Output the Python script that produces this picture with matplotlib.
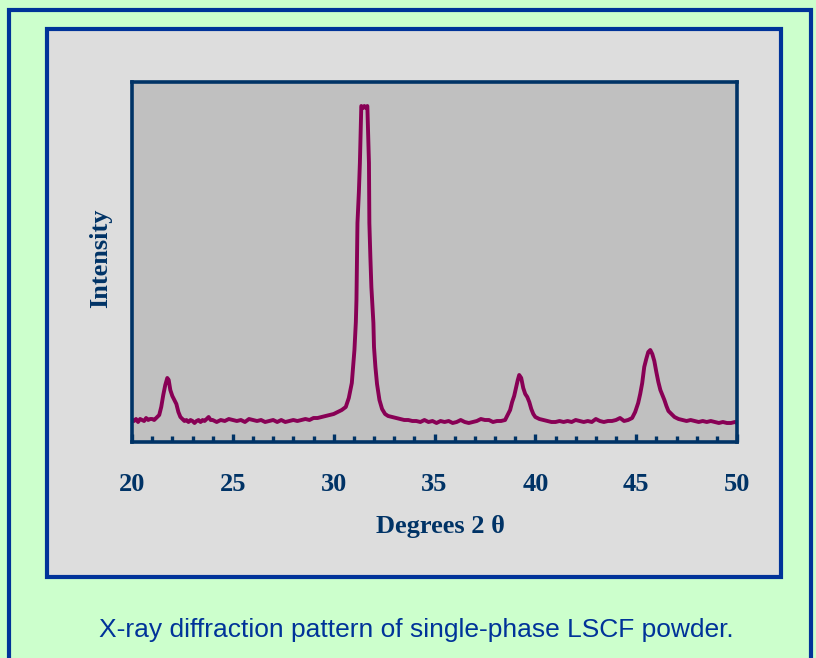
import matplotlib
matplotlib.use("Agg")
import matplotlib.pyplot as plt
from matplotlib.patches import Rectangle
from matplotlib.ticker import MultipleLocator

# XRD pattern (2-theta in degrees, intensity in arb. units)
two_theta = [
    20.0, 20.1, 20.2, 20.3, 20.4, 20.5, 20.6, 20.7, 20.8, 20.9, 21.0, 21.1,
    21.2, 21.35, 21.45, 21.55, 21.65, 21.75, 21.82, 21.9, 22.0, 22.1, 22.2, 22.3,
    22.4, 22.5, 22.6, 22.7, 22.8, 22.9, 23.0, 23.1, 23.2, 23.3, 23.4, 23.5,
    23.6, 23.7, 23.8, 23.9, 24.0, 24.2, 24.4, 24.6, 24.8, 25.0, 25.2, 25.4,
    25.6, 25.8, 26.0, 26.2, 26.4, 26.6, 26.8, 27.0, 27.2, 27.4, 27.6, 27.8,
    28.0, 28.2, 28.4, 28.6, 28.8, 29.0, 29.2, 29.4, 29.6, 29.8, 30.0, 30.2,
    30.4, 30.6, 30.75, 30.9, 31.03, 31.1, 31.13, 31.18, 31.25, 31.3, 31.37, 31.45,
    31.52, 31.6, 31.67, 31.75, 31.77, 31.82, 31.87, 31.97, 32.0, 32.07, 32.15, 32.27,
    32.4, 32.55, 32.7, 32.9, 33.1, 33.3, 33.5, 33.7, 33.9, 34.1, 34.3, 34.5,
    34.7, 34.9, 35.1, 35.3, 35.5, 35.7, 35.9, 36.1, 36.3, 36.5, 36.7, 36.9,
    37.1, 37.3, 37.5, 37.7, 37.9, 38.1, 38.3, 38.5, 38.6, 38.75, 38.85, 38.95,
    39.05, 39.13, 39.2, 39.3, 39.4, 39.5, 39.6, 39.7, 39.8, 39.9, 40.0, 40.2,
    40.4, 40.6, 40.8, 41.0, 41.2, 41.4, 41.6, 41.8, 42.0, 42.2, 42.4, 42.6,
    42.8, 43.0, 43.2, 43.4, 43.6, 43.8, 44.0, 44.2, 44.4, 44.6, 44.8, 44.95,
    45.1, 45.2, 45.3, 45.4, 45.5, 45.6, 45.7, 45.8, 45.9, 46.0, 46.1, 46.2,
    46.3, 46.4, 46.5, 46.6, 46.75, 46.9, 47.1, 47.3, 47.5, 47.7, 47.9, 48.1,
    48.3, 48.5, 48.7, 48.9, 49.1, 49.3, 49.5, 49.7, 49.9, 50.0,
]
intensity = [
    22, 21, 23, 20, 23, 22, 21, 24, 22, 23, 23, 22,
    24, 27, 35, 47, 57, 64, 62, 52, 46, 42, 38, 30,
    25, 23, 21, 22, 20, 22, 21, 19, 21, 22, 20, 22,
    21, 23, 25, 22, 22, 20, 22, 21, 23, 22, 21, 22,
    20, 23, 22, 21, 22, 20, 21, 22, 20, 22, 20, 21,
    22, 21, 22, 23, 22, 24, 24, 25, 26, 27, 28, 30,
    32, 35, 44, 59, 92, 120, 142, 219, 250, 279, 336, 334,
    336, 334, 336, 279, 219, 185, 155, 119, 95, 75, 58, 42,
    33, 28, 26, 25, 24, 23, 22, 22, 21, 21, 20, 22,
    20, 21, 19, 21, 20, 21, 19, 20, 22, 20, 19, 20,
    21, 23, 22, 22, 20, 21, 21, 22, 26, 32, 40, 46,
    55, 62, 67, 64, 54, 48, 45, 40, 33, 28, 25, 23,
    22, 21, 20, 20, 21, 20, 21, 20, 22, 21, 20, 21,
    20, 23, 21, 20, 21, 21, 22, 24, 21, 22, 24, 30,
    39, 48, 59, 75, 83, 90, 92, 88, 81, 70, 60, 52,
    47, 42, 36, 31, 28, 25, 23, 22, 21, 22, 21, 20,
    21, 20, 21, 20, 19, 20, 19, 19, 20, 19,
]

W, H = 816, 658
navy = "#003366"
blue = "#003399"

fig = plt.figure(figsize=(W / 100, H / 100), dpi=100)
fig.patch.set_facecolor("#CCFFCC")


def px_rect(x0, y0, x1, y1, **kw):
    # rectangle given in image pixels (origin top-left)
    r = Rectangle((x0 / W, 1 - y1 / H), (x1 - x0) / W, (y1 - y0) / H,
                  transform=fig.transFigure, zorder=-5, **kw)
    fig.patches.append(r)


px_rect(9, 10, 811, 668, facecolor="none", edgecolor=blue, linewidth=3)
px_rect(47, 29, 781, 577, facecolor="#DDDDDD", edgecolor=blue, linewidth=3)

ax = fig.add_axes([132 / W, 1 - 442 / H, (737 - 132) / W, (442 - 82) / H])
ax.set_zorder(5)
ax.set_facecolor("#C0C0C0")
ax.plot(two_theta, intensity, color="#880055", linewidth=2.8,
        solid_joinstyle="round")

ax.set_xlim(20, 50)
ax.set_ylim(0, 360)
ax.set_yticks([])
ax.xaxis.set_major_locator(MultipleLocator(5))
ax.xaxis.set_minor_locator(MultipleLocator(1))
ax.tick_params(axis="x", which="major", direction="in", length=6, width=2.4,
               color=navy, pad=22, labelsize=19, labelcolor=navy)
ax.tick_params(axis="x", which="minor", direction="in", length=4, width=2.4,
               color=navy)
for lab in ax.get_xticklabels():
    lab.set_fontfamily("Liberation Serif")
    lab.set_fontweight("bold")
for sp in ax.spines.values():
    sp.set_color(navy)
    sp.set_linewidth(2.6)

fig.text(440 / W, 1 - 527 / H, "Degrees 2 \u03b8", ha="center", va="center",
         fontsize=19, fontweight="bold", family="Liberation Serif", color=navy)
fig.text(101 / W, 1 - 258 / H, "Intensity", ha="center", va="center",
         rotation=90, fontsize=19, fontweight="bold", family="Liberation Serif",
         color=navy)
fig.text(416 / W, 1 - 630 / H,
         "X-ray diffraction pattern of single-phase LSCF powder.",
         ha="center", va="center", fontsize=19, family="Liberation Sans",
         color=blue)

plt.savefig("out.png", dpi=100, facecolor=fig.get_facecolor())
